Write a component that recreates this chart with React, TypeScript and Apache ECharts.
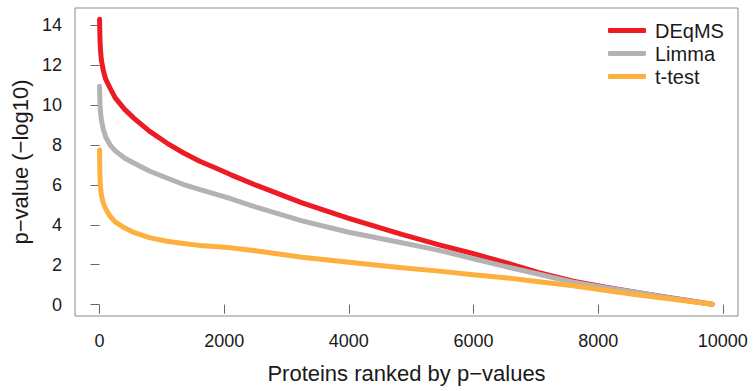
import React, { useEffect, useRef } from "react";
import * as echarts from "echarts";

const ranks = [1, 3, 8, 15, 30, 60, 100, 170, 250, 400, 550, 800, 1080, 1350, 1600, 1900, 2100, 2500, 3250, 4000, 4850, 5450, 6000, 6500, 7050, 7600, 8100, 8650, 9100, 9830];
const deqms = [14.3, 13.9, 13.3, 12.8, 12.25, 11.75, 11.3, 10.85, 10.38, 9.8, 9.35, 8.7, 8.1, 7.6, 7.2, 6.8, 6.52, 6.0, 5.1, 4.33, 3.52, 3.0, 2.55, 2.12, 1.6, 1.17, 0.88, 0.6, 0.37, 0.02];
const limma = [10.95, 10.6, 10.05, 9.7, 9.25, 8.8, 8.4, 8.0, 7.72, 7.35, 7.1, 6.7, 6.35, 6.02, 5.78, 5.5, 5.32, 4.9, 4.2, 3.63, 3.1, 2.72, 2.3, 1.92, 1.52, 1.12, 0.86, 0.6, 0.36, 0.02];
const ttest = [7.75, 7.2, 6.4, 5.9, 5.5, 5.1, 4.8, 4.43, 4.15, 3.85, 3.62, 3.36, 3.18, 3.06, 2.97, 2.9, 2.85, 2.7, 2.38, 2.12, 1.85, 1.68, 1.5, 1.35, 1.15, 0.95, 0.72, 0.48, 0.3, 0.02];
const seriesNames = ["DEqMS", "Limma", "t-test"];
const seriesColors = ["#ed1c24", "#b3b3b3", "#fdb03d"];
const xTicks = [0, 2000, 4000, 6000, 8000, 10000];
const yTicks = [0, 2, 4, 6, 8, 10, 12, 14];

const FONT = "Liberation Sans";

export default function App() {
  const ref = useRef<HTMLDivElement>(null);
  useEffect(() => {
    if (!ref.current) return;
    const chart = echarts.init(ref.current, undefined, { renderer: "svg" });
    const all = [deqms, limma, ttest];
    chart.setOption({
      animation: false,
      textStyle: { fontFamily: FONT },
      grid: {
        left: 75,
        top: 8,
        right: 15,
        bottom: 75,
        show: true,
        borderColor: "#8a8a8a",
        borderWidth: 1,
        backgroundColor: "transparent",
      },
      legend: {
        orient: "vertical",
        left: 608,
        top: 19,
        padding: 0,
        itemGap: 0,
        itemWidth: 38,
        itemHeight: 5,
        icon: "roundRect",
        data: seriesNames,
        textStyle: {
          fontFamily: FONT,
          fontSize: 20,
          lineHeight: 23,
          color: "#1a1a1a",
          padding: [0, 0, 0, 4],
        },
      },
      xAxis: {
        type: "value",
        min: -393,
        max: 10243,
        name: "Proteins ranked by p\u2212values",
        nameLocation: "middle",
        nameGap: 46,
        nameTextStyle: { fontFamily: FONT, fontSize: 22, color: "#1a1a1a" },
        axisLine: { show: false },
        splitLine: { show: false },
        axisTick: {
          show: true,
          inside: false,
          length: 9,
          lineStyle: { color: "#666" },
          customValues: xTicks,
        },
        axisLabel: {
          fontFamily: FONT,
          fontSize: 18,
          color: "#1a1a1a",
          margin: 16,
          customValues: xTicks,
          formatter: (v: number) => String(v),
        },
      },
      yAxis: {
        type: "value",
        min: -0.57,
        max: 14.87,
        name: "p\u2212value (\u2212log10)",
        nameLocation: "middle",
        nameGap: 31,
        nameTextStyle: { fontFamily: FONT, fontSize: 22, color: "#1a1a1a" },
        axisLine: { show: false },
        splitLine: { show: false },
        axisTick: {
          show: true,
          inside: false,
          length: 9,
          lineStyle: { color: "#666" },
          customValues: yTicks,
        },
        axisLabel: {
          fontFamily: FONT,
          fontSize: 18,
          color: "#1a1a1a",
          margin: 13,
          customValues: yTicks,
          formatter: (v: number) => String(v),
        },
      },
      series: seriesNames.map((name, i) => ({
        name,
        type: "line",
        data: ranks.map((r, j) => [r, all[i][j]]),
        showSymbol: false,
        smooth: false,
        color: seriesColors[i],
        lineStyle: { width: 5, color: seriesColors[i], cap: "round", join: "round" },
        z: 2 + i,
      })),
    });
    return () => chart.dispose();
  }, []);
  return (
    <div
      ref={ref}
      style={{ position: "absolute", left: 0, top: 0, width: 753, height: 391 }}
    />
  );
}
